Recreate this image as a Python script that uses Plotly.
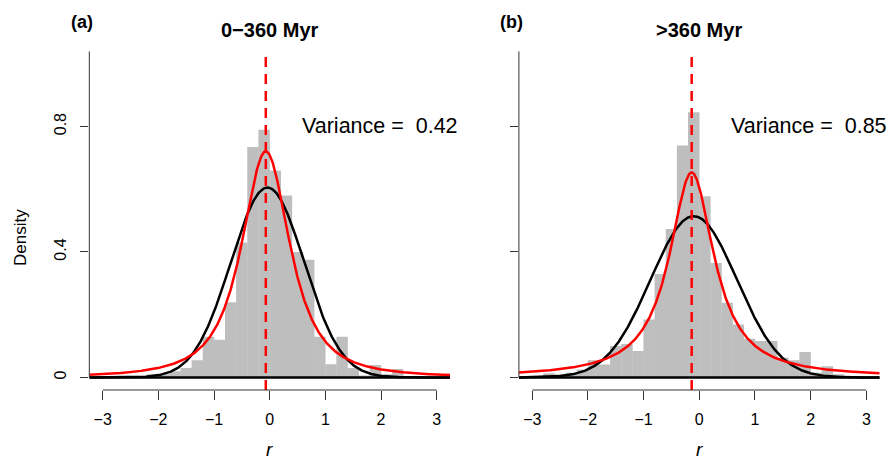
import math
import numpy as np
import plotly.graph_objects as go

# ---------------- data ----------------
breaks_a = [-2.4, -2.2, -2.0, -1.8, -1.6, -1.4, -1.2, -1.0, -0.8, -0.6, -0.4, -0.2,
            0.0, 0.2, 0.4, 0.6, 0.8, 1.0, 1.2, 1.4, 1.6, 1.8, 2.0, 2.2, 2.4]
density_a = [0.005, 0.01, 0.01, 0.02, 0.03, 0.055, 0.13, 0.12, 0.24, 0.43, 0.735, 0.79,
             0.66, 0.58, 0.40, 0.375, 0.13, 0.042, 0.13, 0.03, 0.006, 0.04, 0.01, 0.027]

breaks_b = [-3.0, -2.8, -2.6, -2.4, -2.2, -2.0, -1.8, -1.6, -1.4, -1.2, -1.0, -0.8, -0.6,
            -0.4, -0.2, 0.0, 0.2, 0.4, 0.6, 0.8, 1.0, 1.2, 1.4, 1.6, 1.8, 2.0, 2.2, 2.4, 2.6]
density_b = [0.005, 0.013, 0.01, 0.015, 0.025, 0.055, 0.041, 0.10, 0.107, 0.084, 0.185,
             0.33, 0.473, 0.739, 0.845, 0.578, 0.365, 0.238, 0.169, 0.123, 0.116, 0.116,
             0.063, 0.055, 0.081, 0.015, 0.036, 0.01]

# fitted curves: normal (black) and Student-t (red)
norm_mean = {"a": -0.04, "b": -0.10}
norm_sd = {"a": 0.659, "b": 0.776}
t_loc = {"a": -0.07, "b": -0.137}
t_scale = {"a": 0.481, "b": 0.487}
t_df = {"a": 1.7, "b": 1.0}

titles = {"a": "0\u2212360 Myr", "b": "&gt;360 Myr"}
panel_tags = {"a": "(a)", "b": "(b)"}
variance_text = {"a": "Variance =  0.42", "b": "Variance =  0.85"}

x_ticks = [-3, -2, -1, 0, 1, 2, 3]
x_ticktext = ["\u22123", "\u22122", "\u22121", "0", "1", "2", "3"]
y_ticks = [0, 0.4, 0.8]
y_ticktext = ["0", "0.4", "0.8"]

# ---------------- helpers ----------------
def norm_pdf(x, m, s):
    return np.exp(-0.5 * ((x - m) / s) ** 2) / (s * math.sqrt(2 * math.pi))

def t_pdf(x, loc, scale, df):
    c = math.gamma((df + 1) / 2) / (math.gamma(df / 2) * math.sqrt(df * math.pi) * scale)
    z = (x - loc) / scale
    return c * (1 + z * z / df) ** (-(df + 1) / 2)

W, H = 893, 460
XR = [-3.24, 3.24]
YR = [-0.04, 1.04]
xdom = {"a": [89.3 / W, 450.1 / W], "b": [518.9 / W, 879.7 / W]}
ydom = [1 - 390.0 / H, 1 - 51.2 / H]
FONT = "Liberation Sans, Arial, sans-serif"

fig = go.Figure()
axes = {"a": ("x", "y"), "b": ("x2", "y2")}
data = {"a": (breaks_a, density_a), "b": (breaks_b, density_b)}
grid = np.linspace(XR[0], XR[1], 600)

for p in ["a", "b"]:
    xa, ya = axes[p]
    br, dens = data[p]
    centers = [(br[i] + br[i + 1]) / 2 for i in range(len(dens))]
    widths = [(br[i + 1] - br[i]) * 1.03 for i in range(len(dens))]
    fig.add_trace(go.Bar(x=centers, y=dens, width=widths, marker_color="#BEBEBE",
                         marker_line_width=0, xaxis=xa, yaxis=ya, showlegend=False))
    fig.add_trace(go.Scatter(x=[XR[0], XR[1]], y=[0, 0], mode="lines",
                             line=dict(color="black", width=2.5), xaxis=xa, yaxis=ya,
                             showlegend=False))
    fig.add_trace(go.Scatter(x=grid, y=norm_pdf(grid, norm_mean[p], norm_sd[p]), mode="lines",
                             line=dict(color="black", width=2.5), xaxis=xa, yaxis=ya,
                             showlegend=False))
    fig.add_trace(go.Scatter(x=grid, y=t_pdf(grid, t_loc[p], t_scale[p], t_df[p]), mode="lines",
                             line=dict(color="#FF0000", width=2.5), xaxis=xa, yaxis=ya,
                             showlegend=False))
    fig.add_trace(go.Scatter(x=[t_loc[p], t_loc[p]], y=YR, mode="lines",
                             line=dict(color="#FF0000", width=2.5, dash="10px,7px"),
                             xaxis=xa, yaxis=ya, showlegend=False))

layout = dict(width=W, height=H, margin=dict(l=0, r=0, t=0, b=0),
              paper_bgcolor="white", plot_bgcolor="white", barmode="overlay",
              font=dict(family=FONT, color="black"), showlegend=False)

for p in ["a", "b"]:
    xa, ya = axes[p]
    xk = "xaxis" if xa == "x" else "xaxis2"
    yk = "yaxis" if ya == "y" else "yaxis2"
    layout[xk] = dict(domain=xdom[p], range=XR, anchor=ya, tickvals=x_ticks, ticktext=x_ticktext,
                      ticks="outside", ticklen=9, tickwidth=1, tickcolor="#333",
                      showline=False, showgrid=False, zeroline=False,
                      tickfont=dict(size=16, family=FONT, color="black"), ticklabelstandoff=6)
    layout[yk] = dict(domain=ydom, range=YR, anchor=xa, tickvals=y_ticks,
                      ticktext=y_ticktext if p == "a" else ["", "", ""],
                      ticks="outside", ticklen=8, tickwidth=1, tickcolor="#333",
                      tickangle=-90, showline=False, showgrid=False, zeroline=False,
                      tickfont=dict(size=16, family=FONT, color="black"), ticklabelstandoff=8)

fig.update_layout(**layout)

shapes = []
annotations = []
for p in ["a", "b"]:
    xa, ya = axes[p]
    shapes.append(dict(type="line", xref=xa, yref=f"{ya} domain", x0=x_ticks[0], x1=x_ticks[-1],
                       y0=0, y1=0, line=dict(color="#333", width=1)))
    shapes.append(dict(type="line", xref=f"{xa} domain", yref=ya, x0=0, x1=0, y0=0, y1=YR[1],
                       line=dict(color="#333", width=1)))
    annotations.append(dict(text=variance_text[p], xref=xa, yref=ya, x=0.54, y=0.8,
                            xanchor="left", yanchor="middle", showarrow=False,
                            font=dict(size=21.5, family=FONT)))
    annotations.append(dict(text=f"<b>{titles[p]}</b>", xref=f"{xa} domain", yref="paper",
                            x=0.5, y=1 - 30 / H, xanchor="center", yanchor="middle",
                            showarrow=False, font=dict(size=20, family=FONT)))
    annotations.append(dict(text=f"<b>{panel_tags[p]}</b>", xref=f"{xa} domain", yref="paper",
                            x=-0.02, y=1 - 22 / H, xanchor="center", yanchor="middle",
                            showarrow=False, font=dict(size=18, family=FONT)))
    annotations.append(dict(text="<i>r</i>", xref=f"{xa} domain", yref="paper",
                            x=0.5, y=1 - 449 / H, xanchor="center", yanchor="middle",
                            showarrow=False, font=dict(size=19, family=FONT)))

annotations.append(dict(text="Density", xref="paper", yref="paper", x=20 / W, y=1 - 238 / H,
                        xanchor="center", yanchor="middle", textangle=-90, showarrow=False,
                        font=dict(size=17, family=FONT)))

fig.update_layout(shapes=shapes, annotations=annotations)
fig.write_html("out.html", config={"displayModeBar": False},
               post_script="document.body.style.margin='0';document.body.style.padding='0';")
